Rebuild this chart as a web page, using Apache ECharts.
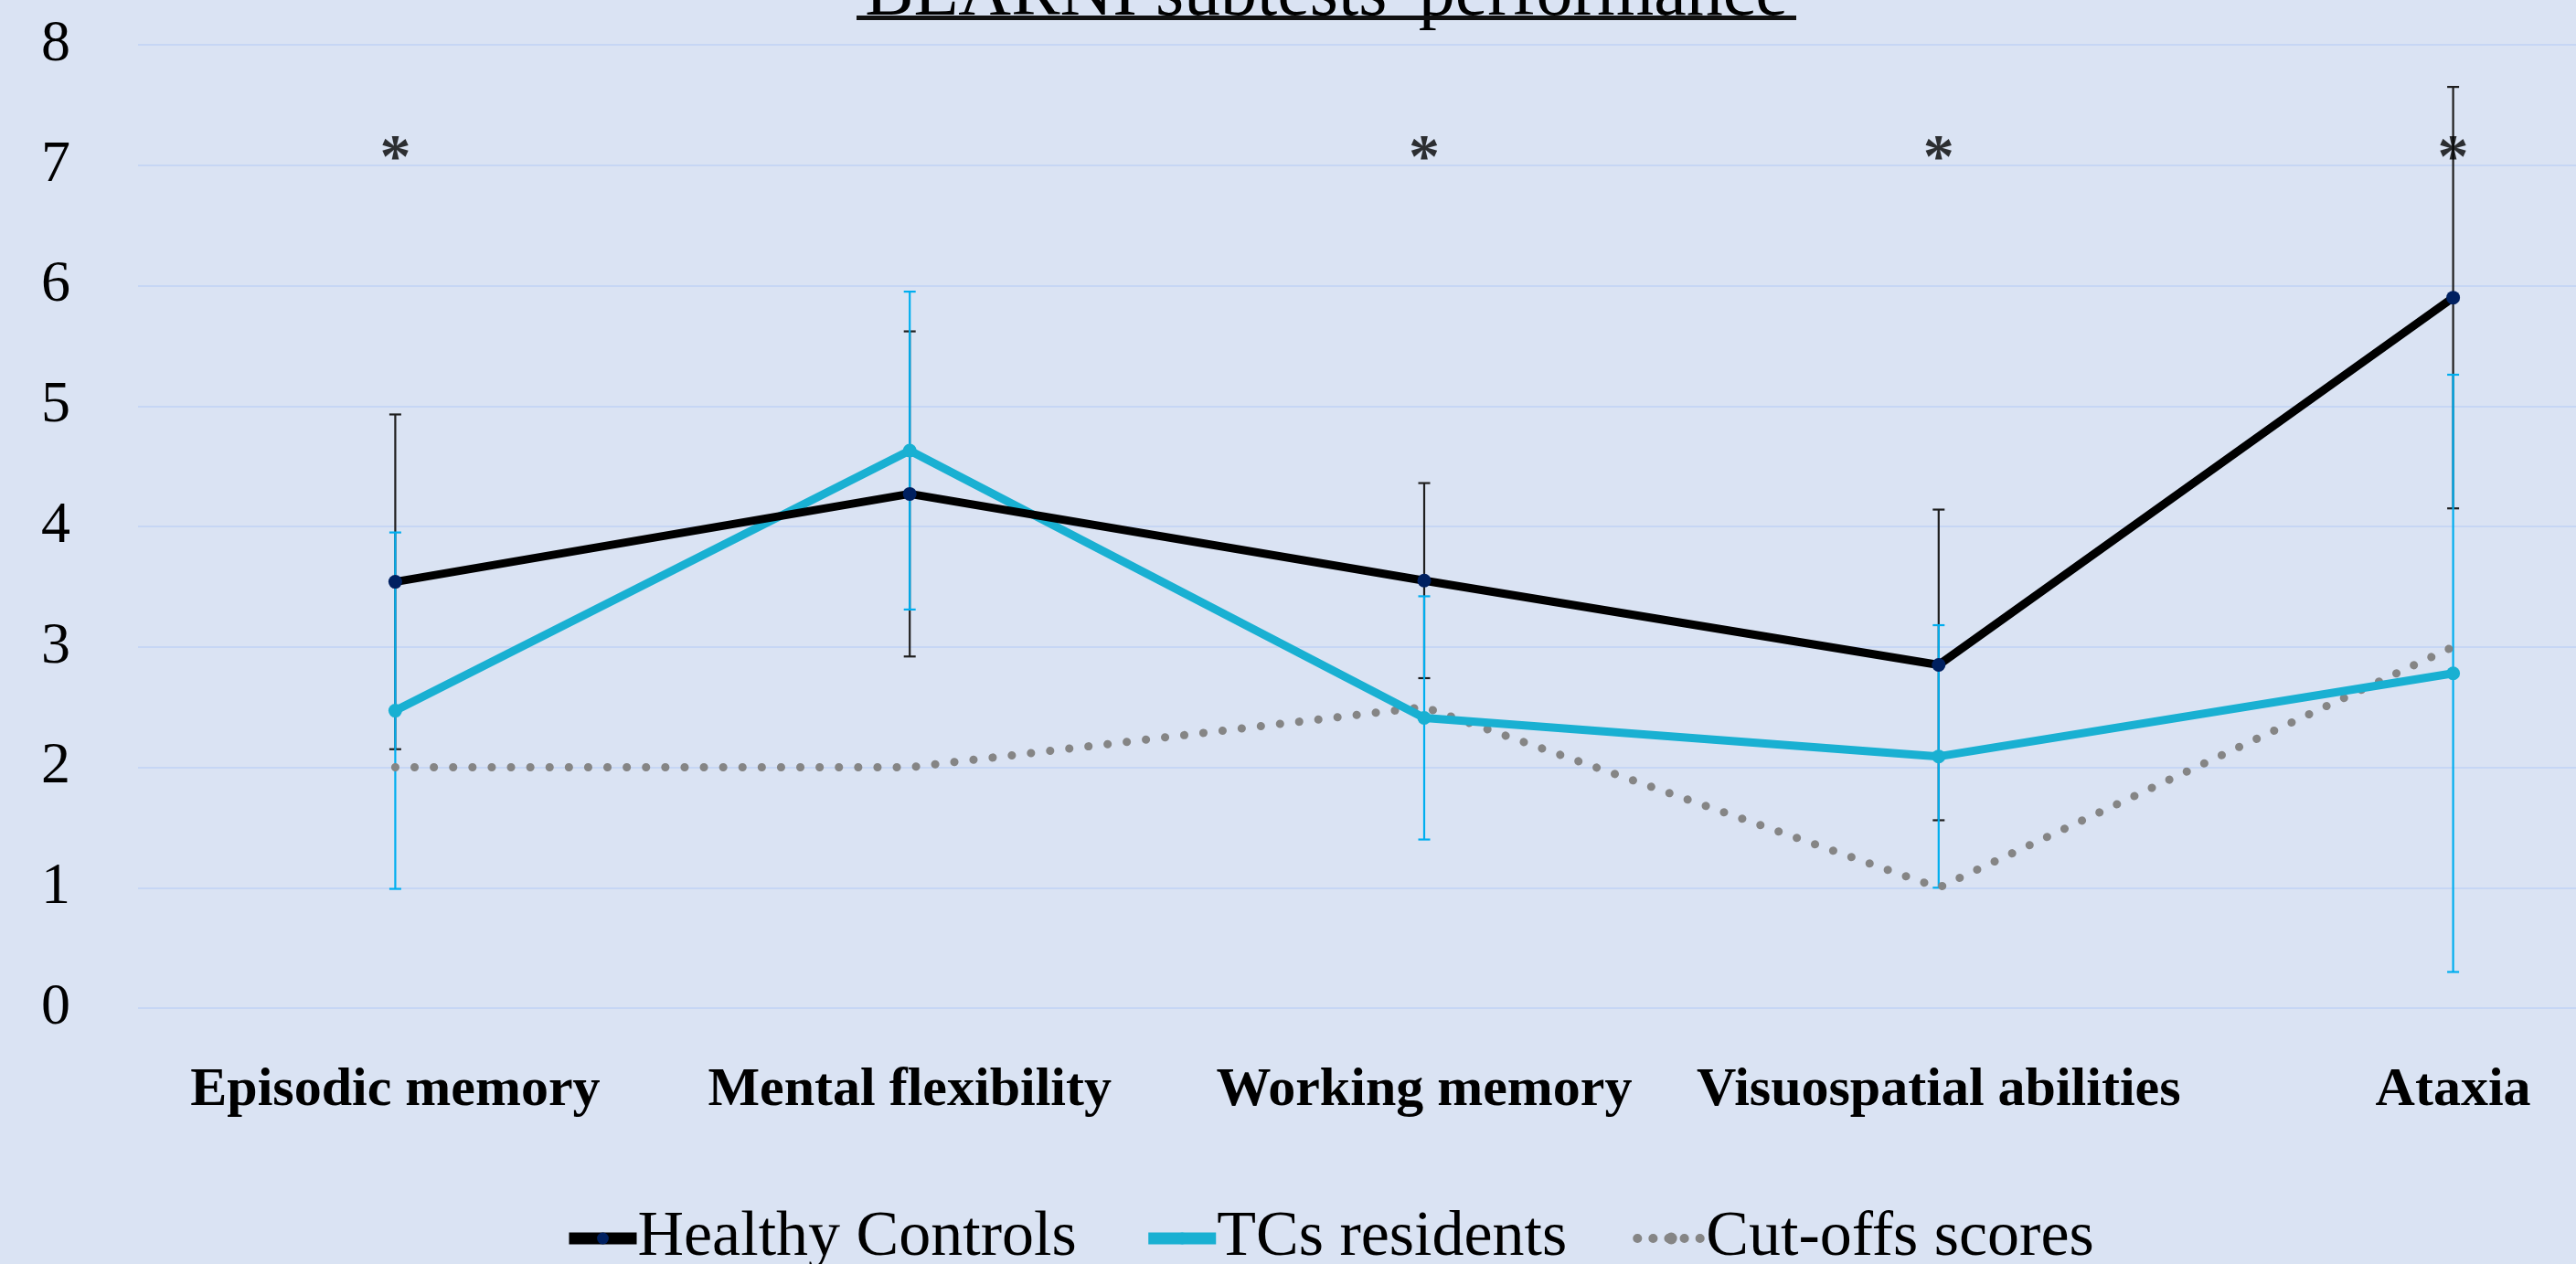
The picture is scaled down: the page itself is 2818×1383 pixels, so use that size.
<!DOCTYPE html>
<html>
<head>
<meta charset="utf-8">
<script src="https://cdn.jsdelivr.net/npm/echarts@6/dist/echarts.min.js"></script>
<style>
html,body{margin:0;padding:0;background:#DAE3F3;}
#chart{width:2818px;height:1383px;}
</style>
</head>
<body>
<div id="chart"></div>
<script>
// ---- data ----
const categories = ['Episodic memory', 'Mental flexibility', 'Working memory', 'Visuospatial abilities', 'Ataxia'];
const hcMean = [3.54, 4.27, 3.55, 2.85, 5.90];
const hcSD   = [1.39, 1.35, 0.81, 1.29, 1.75];
const tcMean = [2.47, 4.63, 2.41, 2.09, 2.78];
const tcSD   = [1.48, 1.32, 1.01, 1.09, 2.48];
const cutoffs = [2, 2, 2.5, 1, 3];
const sigMarks = ['*', '', '*', '*', '*'];
const sigLevel = 7.15;
const yTicks = [0, 1, 2, 3, 4, 5, 6, 7, 8];
const titleText = "BEARNI subtests' performance";

const FONT = "'Liberation Serif', 'DejaVu Serif', serif";

function errData(mean, sd) {
  return mean.map((m, i) => [i, m - sd[i], m + sd[i]]);
}
function errSeries(name, mean, sd, color, z) {
  return {
    type: 'custom',
    name: name,
    z: z,
    silent: true,
    data: errData(mean, sd),
    encode: { x: 0, y: [1, 2] },
    renderItem: function (params, api) {
      const x = api.value(0);
      const lo = api.coord([x, api.value(1)]);
      const hi = api.coord([x, api.value(2)]);
      const cap = 6.5;
      const st = { stroke: color, lineWidth: 2.2 };
      return {
        type: 'group',
        children: [
          { type: 'line', shape: { x1: lo[0], y1: lo[1], x2: hi[0], y2: hi[1] }, style: st },
          { type: 'line', shape: { x1: lo[0] - cap, y1: lo[1], x2: lo[0] + cap, y2: lo[1] }, style: st },
          { type: 'line', shape: { x1: hi[0] - cap, y1: hi[1], x2: hi[0] + cap, y2: hi[1] }, style: st }
        ]
      };
    }
  };
}

const chart = echarts.init(document.getElementById('chart'), null, { renderer: 'canvas' });
const option = {
  backgroundColor: '#DAE3F3',
  animation: false,
  textStyle: { fontFamily: FONT },
  graphic: [
    {
      type: 'text',
      z: 100,
      x: 1451,
      y: -45,
      style: {
        text: titleText,
        align: 'center',
        verticalAlign: 'top',
        font: "80px 'Liberation Serif', serif",
        fill: '#000'
      }
    },
    {
      type: 'rect',
      shape: { x: 937, y: 17, width: 1028, height: 5 },
      style: { fill: '#111' },
      z: 100
    }
  ],
  grid: { left: 151, width: 2814, top: 49, height: 1054, containLabel: false, outerBoundsMode: 'none' },
  legend: {
    data: [
      { name: 'Healthy Controls', lineStyle: { width: 13 } },
      { name: 'TCs residents', lineStyle: { width: 13 } },
      { name: 'Cut-offs scores', lineStyle: { width: 10, type: [0.1, 17], cap: 'round' } }
    ],
    left: 616,
    top: 1320,
    padding: 0,
    itemGap: 72,
    itemWidth: 74,
    itemHeight: 16,
    textStyle: { fontFamily: FONT, fontSize: 70, color: '#000', padding: [0, 0, 0, -4] }
  },
  xAxis: {
    type: 'category',
    data: categories,
    boundaryGap: true,
    axisLine: { show: false },
    axisTick: { show: false },
    axisLabel: {
      interval: 0,
      margin: 60,
      fontFamily: FONT,
      fontWeight: 'bold',
      fontSize: 60,
      color: '#000'
    },
    splitLine: { show: false }
  },
  yAxis: {
    type: 'value',
    min: 0,
    max: 8,
    interval: 1,
    axisLine: { show: false },
    axisTick: { show: false },
    axisLabel: {
      margin: 74,
      fontFamily: FONT,
      fontSize: 64,
      color: '#000',
      formatter: function (v) { return yTicks.indexOf(v) >= 0 ? String(v) : ''; }
    },
    splitLine: { lineStyle: { color: '#C6D6F4', width: 2 } }
  },
  series: [
    errSeries('hcErr', hcMean, hcSD, '#1E1E1E', 1),
    errSeries('tcErr', tcMean, tcSD, '#00AEEF', 1.5),
    {
      name: 'Cut-offs scores',
      type: 'line',
      data: cutoffs,
      z: 2,
      symbol: 'none',
      lineStyle: { color: '#858585', width: 9, type: [0.1, 21], cap: 'round' },
      itemStyle: { color: '#858585' }
    },
    {
      name: 'TCs residents',
      type: 'line',
      data: tcMean,
      z: 3,
      symbol: 'circle',
      symbolSize: 15,
      lineStyle: { color: '#19B0D2', width: 9 },
      itemStyle: { color: '#19B0D2' }
    },
    {
      name: 'Healthy Controls',
      type: 'line',
      data: hcMean,
      z: 4,
      symbol: 'circle',
      symbolSize: 15,
      lineStyle: { color: '#000000', width: 9 },
      itemStyle: { color: '#002060' }
    },
    {
      name: 'sig',
      type: 'scatter',
      z: 6,
      silent: true,
      symbol: 'circle',
      symbolSize: 1,
      itemStyle: { color: 'rgba(0,0,0,0)' },
      data: sigMarks.map((s, i) => [i, s ? sigLevel : '-']),
      label: {
        show: true,
        position: 'inside',
        formatter: function (p) { return sigMarks[p.dataIndex]; },
        fontFamily: FONT,
        fontWeight: 'bold',
        fontSize: 68,
        color: '#000',
        offset: [0, 14]
      }
    }
  ]
};
chart.setOption(option);
</script>
</body>
</html>
